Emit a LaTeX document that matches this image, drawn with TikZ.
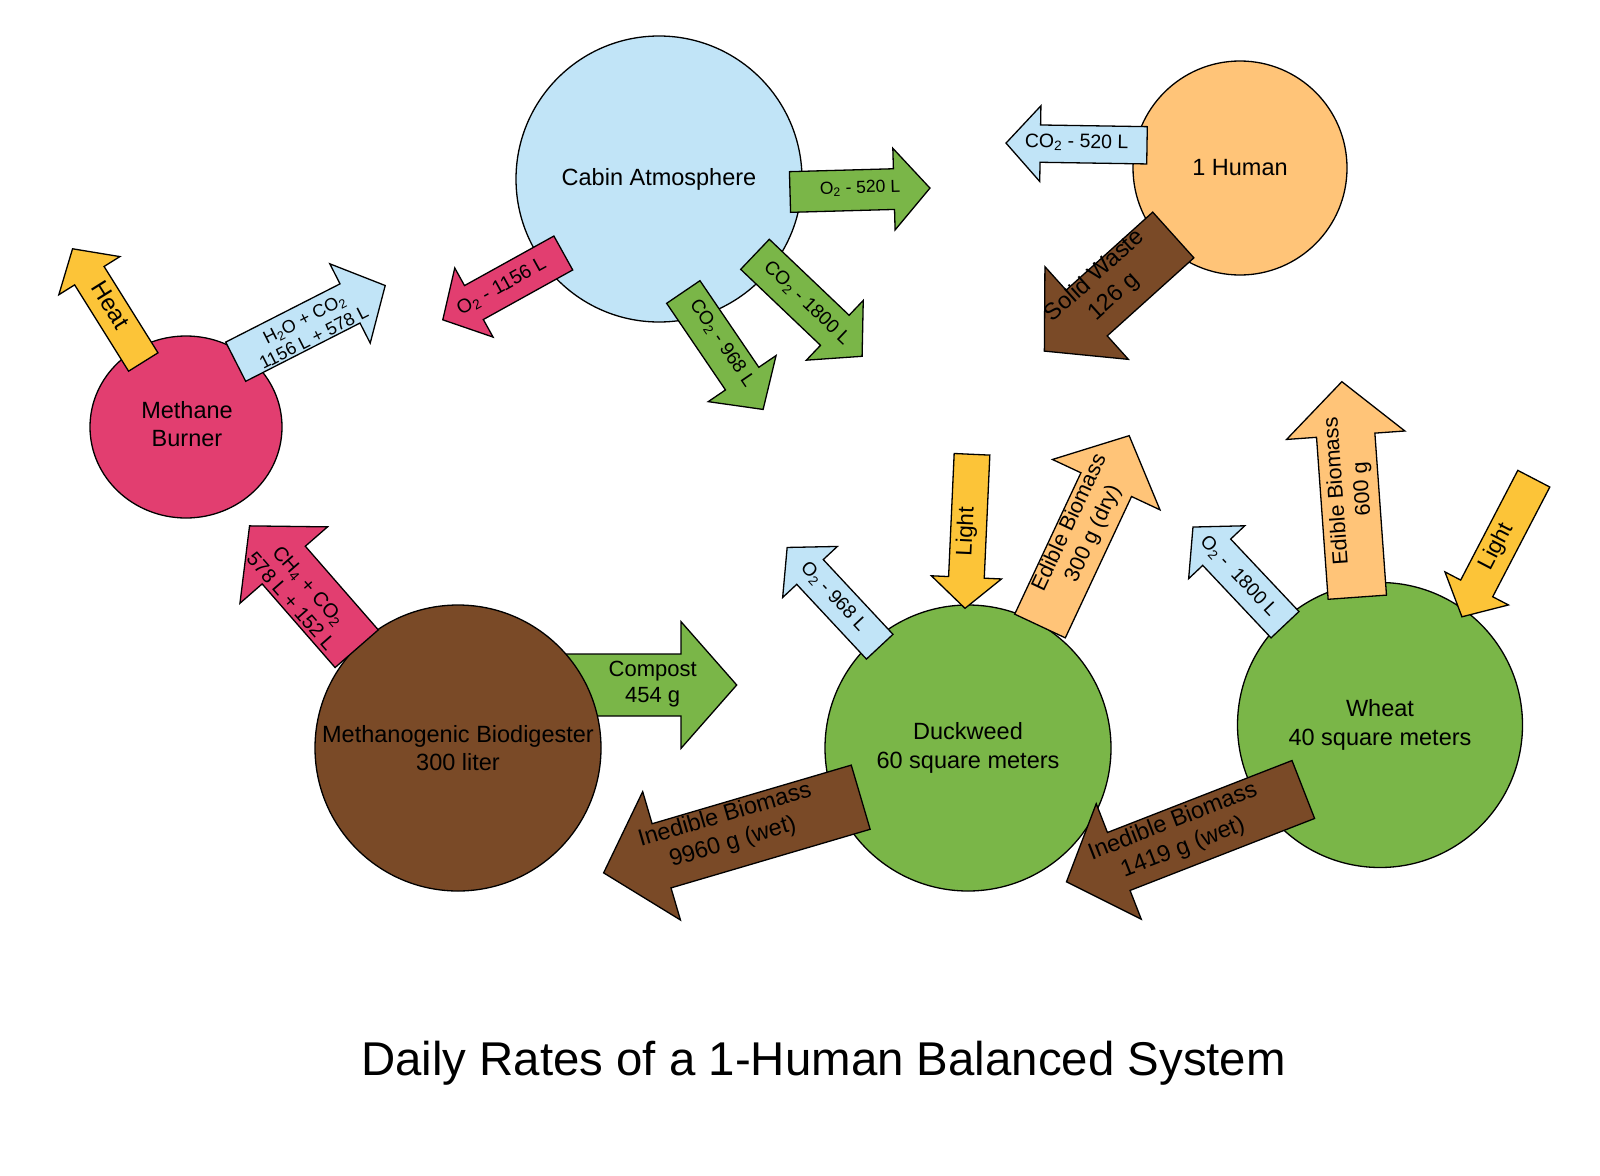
\documentclass[tikz,border=0pt]{standalone}
\usepackage{fontspec}
\setmainfont{Liberation Sans}
\usetikzlibrary{shapes.geometric}
\definecolor{cblue}{RGB}{193,228,247}
\definecolor{corange}{RGB}{255,196,120}
\definecolor{cpink}{RGB}{226,62,112}
\definecolor{cbrown}{RGB}{122,74,39}
\definecolor{cgreen}{RGB}{122,182,72}
\definecolor{cyellow}{RGB}{252,196,56}
\newcommand{\blockarrow}[9]{%
  \begin{scope}[shift={(#2,-#3)}, rotate=#4]
    \pgfmathsetmacro\bsw{#6/2}\pgfmathsetmacro\bhw{#7/2}\pgfmathsetmacro\bhb{#5-#8}
    \draw[arrowline, fill=#9] (0,-\bsw) -- (\bhb,-\bsw) -- (\bhb,-\bhw) -- (#5,0) -- (\bhb,\bhw) -- (\bhb,\bsw) -- (0,\bsw) -- cycle;
    \coordinate (#1) at (0,0);
  \end{scope}}
\tikzset{
  arrowline/.style={draw=black, line width=1.3pt, line join=miter},
  circ/.style={circle, draw=black, line width=1.3pt, inner sep=0pt, align=center, font=\fontsize{23.5}{28.6}\selectfont},
  lbl/.style={inner sep=0pt, align=center},
}
\begin{document}
\begin{tikzpicture}[x=1pt,y=1pt]
\fill[white] (0,0) rectangle (1600,-1175);
\useasboundingbox (0,0) rectangle (1600,-1175);

% arrow behind the digester
\blockarrow{compost}{540}{685}{0}{196.7}{62}{126.7}{55.7}{cgreen}

% circles
\node[circ, minimum size=286pt, fill=cblue] (cabin) at (659,-179) {Cabin Atmosphere};
\node[circ, minimum size=214pt, fill=corange] (human) at (1240,-168) {1 Human};
\node[ellipse, draw=black, line width=1.3pt, inner sep=0pt, minimum width=192pt, minimum height=182pt, fill=cpink] (burner) at (186,-427) {};
\node[lbl, font=\fontsize{23.5}{28.6}\selectfont] (burner-t) at (187,-424) {Methane\\Burner};
\node[circ, minimum size=286pt, fill=cbrown] (digester) at (458,-748) {Methanogenic Biodigester\\300 liter};
\node[circ, minimum size=286pt, fill=cgreen] (duckweed) at (968,-748) {Duckweed\\60 square meters};
\node[circ, minimum size=285pt, fill=cgreen] (wheat) at (1380,-725) {Wheat\\40 square meters};

% arrows
\blockarrow{heat}{143.3}{362}{122}{133.5}{34.7}{72}{31.7}{cyellow}
\blockarrow{hwo}{235.7}{361.7}{27}{167.8}{44}{89}{39.5}{cblue}
\blockarrow{ooa}{563.3}{253}{209}{137.8}{38.8}{79}{35.6}{cpink}
\blockarrow{oob}{790}{192}{1.6}{140}{40.7}{81.7}{36}{cgreen}
\blockarrow{coa}{683.3}{292}{-55.8}{142}{40.3}{82}{37.3}{cgreen}
\blockarrow{cob}{755}{254.3}{-43.6}{147.9}{41.5}{82.5}{37.7}{cgreen}
\blockarrow{coc}{1147}{145.3}{179.1}{141}{37.3}{75.7}{34.3}{cblue}
\blockarrow{waste}{1173.3}{235}{222}{173.5}{61.5}{124.7}{56.9}{cbrown}
\blockarrow{cha}{356.7}{648.7}{131.1}{163}{57.3}{116.2}{52}{cpink}
\blockarrow{dwo}{879.7}{646.7}{133}{135.7}{36.3}{74.8}{33.5}{cblue}
\blockarrow{dwl}{972}{454.3}{267.4}{154.2}{35.7}{70.2}{31}{cyellow}
\blockarrow{dwe}{1040}{626}{64.9}{210.2}{55.9}{118.7}{54.1}{corange}
\blockarrow{dwi}{860.7}{797.2}{196.4}{268}{66.9}{133.8}{60.4}{cbrown}
\blockarrow{who}{1285}{624.7}{133.3}{134.2}{38.4}{77.1}{34.6}{cblue}
\blockarrow{whe}{1357.3}{597.2}{94.1}{216.1}{58.5}{118.6}{53.7}{corange}
\blockarrow{whl}{1533.8}{478.7}{242.5}{155.7}{36.1}{71.6}{32}{cyellow}
\blockarrow{whi}{1303.3}{789.5}{201.3}{254.2}{62.2}{124}{56.1}{cbrown}

% arrow labels
\node[lbl, rotate=-58, font=\fontsize{24}{28}\selectfont] (heat-t) at (111,-305) {Heat};
\node[lbl, rotate=27, font=\fontsize{18}{21}\selectfont] (hwo-t) at (309,-328) {H\textsubscript{2}O + CO\textsubscript{2}\\1156 L + 578 L};
\node[lbl, rotate=29, font=\fontsize{19.5}{23}\selectfont] (ooa-t) at (501.7,-286.7) {O\textsubscript{2} - 1156 L};
\node[lbl, rotate=1.6, font=\fontsize{17.5}{21}\selectfont] (oob-t) at (860,-188.3) {O\textsubscript{2} - 520 L};
\node[lbl, rotate=-55.8, font=\fontsize{19}{23}\selectfont] (coa-t) at (721.7,-343.3) {CO\textsubscript{2} - 968 L};
\node[lbl, rotate=-43.6, font=\fontsize{19}{23}\selectfont] (cob-t) at (806.7,-303.3) {CO\textsubscript{2} - 1800 L};
\node[lbl, rotate=-0.9, font=\fontsize{19.5}{23}\selectfont] (coc-t) at (1076.7,-142.7) {CO\textsubscript{2} - 520 L};
\node[lbl, rotate=42, font=\fontsize{23.5}{28}\selectfont] (waste-t) at (1104.5,-286.5) {Solid Waste\\126 g};
\node[lbl, rotate=-48.9, font=\fontsize{20}{23.5}\selectfont] (cha-t) at (300,-593.3) {CH\textsubscript{4} + CO\textsubscript{2}\\578 L + 152 L};
\node[lbl, font=\fontsize{22}{26}\selectfont] (compost-t) at (652.7,-684) {Compost\\454 g};
\node[lbl, rotate=-47, font=\fontsize{19}{23}\selectfont] (dwo-t) at (833.3,-596.7) {O\textsubscript{2} - 968 L};
\node[lbl, rotate=87.4, font=\fontsize{22.5}{27}\selectfont] (dwl-t) at (966.7,-531.7) {Light};
\node[lbl, rotate=64.9, font=\fontsize{21.5}{26}\selectfont] (dwe-t) at (1081.7,-528.3) {Edible Biomass\\300 g (dry)};
\node[lbl, rotate=16.4, font=\fontsize{23.5}{28}\selectfont] (dwi-t) at (729,-829) {Inedible Biomass\\9960 g (wet)};
\node[lbl, rotate=-46.7, font=\fontsize{19}{23}\selectfont] (who-t) at (1238.3,-576.7) {O\textsubscript{2} -\ \ 1800 L};
\node[lbl, rotate=94.1, font=\fontsize{21.5}{26}\selectfont] (whe-t) at (1350,-490) {Edible Biomass\\600 g};
\node[lbl, rotate=62.5, font=\fontsize{22.5}{27}\selectfont] (whl-t) at (1496.7,-546.7) {Light};
\node[lbl, rotate=21.3, font=\fontsize{23.5}{28}\selectfont] (whi-t) at (1178,-835) {Inedible Biomass\\1419 g (wet)};

% title
\node[inner sep=0pt, anchor=base, font=\fontsize{47.4}{56}\selectfont] (title) at (823.5,-1075) {Daily Rates of a 1-Human Balanced System};
\end{tikzpicture}
\end{document}
